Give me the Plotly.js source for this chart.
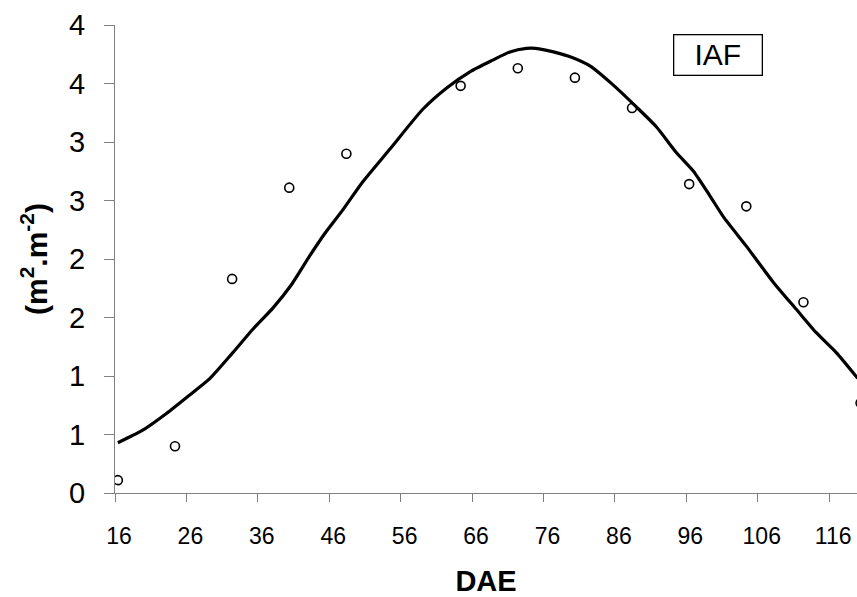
<!DOCTYPE html>
<html>
<head>
<meta charset="utf-8">
<script src="https://cdn.plot.ly/plotly-3.0.1.min.js"></script>
<style>
html,body{margin:0;padding:0;background:#fff;}
#chart{width:857px;height:597px;}
</style>
</head>
<body>
<div id="chart"></div>
<script>
// Observed IAF (leaf area index) by DAE
var obsDAE = [16, 24, 32, 40, 48, 64, 72, 80, 88, 96, 104, 112, 120];
var obsIAF = [0.11, 0.40, 1.83, 2.61, 2.90, 3.48, 3.63, 3.55, 3.29, 2.64, 2.45, 1.63, 0.77];

// Fitted curve
var fitDAE = [16.0, 19.3, 22.8, 26.1, 28.9, 32.1, 34.9, 37.7, 40.3, 42.9, 45.0, 47.5, 50.3, 54.1, 58.7, 62.0, 65.3, 68.5, 70.9, 73.2, 74.5, 77.0, 79.7, 82.1, 85.3, 88.6, 91.4, 94.2, 96.6, 98.9, 100.8, 104.0, 107.8, 111.0, 113.8, 116.6, 119.6];
var fitIAF = [0.43, 0.53, 0.68, 0.84, 0.98, 1.20, 1.40, 1.58, 1.78, 2.03, 2.22, 2.42, 2.66, 2.94, 3.28, 3.46, 3.60, 3.70, 3.77, 3.80, 3.80, 3.77, 3.72, 3.65, 3.49, 3.30, 3.13, 2.91, 2.75, 2.54, 2.36, 2.11, 1.80, 1.57, 1.37, 1.20, 0.98];

// Axis ticks
var xTickVals = [15.6, 25.6, 35.6, 45.6, 55.6, 65.6, 75.6, 85.6, 95.6, 105.6, 115.6];
var xTickText = ["16", "26", "36", "46", "56", "66", "76", "86", "96", "106", "116"];
var yTickVals = [0, 0.5, 1, 1.5, 2, 2.5, 3, 3.5, 4];
var yTickText = ["0", "1", "1", "2", "2", "3", "3", "4", "4"];

var FONT = "Liberation Sans, Arial, sans-serif";

var traces = [
  {
    x: fitDAE, y: fitIAF, type: "scatter", mode: "lines",
    line: {color: "#000", width: 3.2, shape: "spline", smoothing: 0.6}, hoverinfo: "skip"
  },
  {
    x: obsDAE, y: obsIAF, type: "scatter", mode: "markers",
    marker: {symbol: "circle-open", size: 9, color: "#000", line: {color: "#000", width: 1.6}}
  }
];

var layout = {
  width: 857, height: 597,
  margin: {l: 115, r: 0, t: 25, b: 104},
  paper_bgcolor: "#fff", plot_bgcolor: "#fff",
  showlegend: false,
  font: {family: FONT, color: "#000"},
  xaxis: {
    range: [15.6, 119.5],
    tickvals: xTickVals, ticktext: xTickText,
    showgrid: false, zeroline: false,
    showline: true, linecolor: "#808080", linewidth: 1,
    ticks: "outside", ticklen: 8, tickcolor: "#808080", tickwidth: 1,
    tickfont: {family: FONT, size: 23, color: "#000"},
    ticklabelshift: 4, ticklabelstandoff: 14,
    title: {text: "DAE", font: {family: FONT, size: 29, weight: 700, color: "#000"}, standoff: 25}
  },
  yaxis: {
    range: [0, 4],
    tickvals: yTickVals, ticktext: yTickText,
    showgrid: false, zeroline: false,
    showline: true, linecolor: "#808080", linewidth: 1,
    ticks: "outside", ticklen: 10, tickcolor: "#808080", tickwidth: 1,
    tickfont: {family: FONT, size: 29, color: "#000"},
    ticklabelstandoff: 13,
    title: {text: "(m<sup>2</sup>.m<sup>-2</sup>)", font: {family: FONT, size: 30, weight: 700, color: "#000"}, standoff: 12}
  },
  annotations: [
    {
      xref: "paper", yref: "paper", x: 0.8126, y: 0.936,
      xanchor: "center", yanchor: "middle",
      text: "IAF", showarrow: false,
      font: {family: FONT, size: 30, color: "#000"},
      bordercolor: "#000", borderwidth: 1.3, borderpad: 0,
      width: 87, height: 39, bgcolor: "#fff"
    }
  ]
};

Plotly.newPlot("chart", traces, layout, {displayModeBar: false, staticPlot: true});
</script>
</body>
</html>
